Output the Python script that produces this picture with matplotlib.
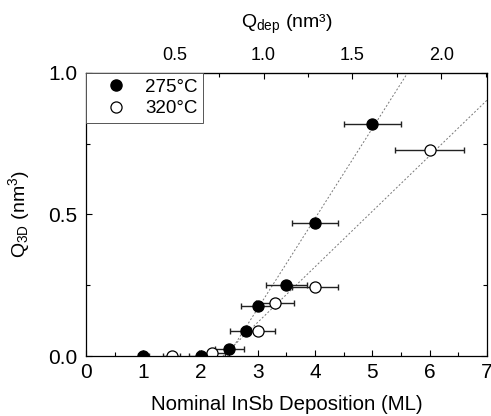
import matplotlib
matplotlib.use("Agg")
import matplotlib.pyplot as plt
import numpy as np
from matplotlib.ticker import MultipleLocator, FixedLocator
from matplotlib.lines import Line2D

plt.rcParams['font.family'] = ['Liberation Sans', 'DejaVu Sans']
plt.rcParams['mathtext.fontset'] = 'custom'
plt.rcParams['mathtext.rm'] = 'Liberation Sans'
plt.rcParams['mathtext.it'] = 'Liberation Sans'

# Data
x_275 = [1.0, 2.0, 2.5, 2.8, 3.0, 3.5, 4.0, 5.0]
y_275 = [0.0, 0.0, 0.025, 0.088, 0.178, 0.252, 0.471, 0.820]
xerr_275 = [0.10, 0.20, 0.25, 0.28, 0.30, 0.35, 0.40, 0.50]

x_320 = [1.5, 2.2, 3.0, 3.3, 4.0, 6.0]
y_320 = [0.0, 0.012, 0.087, 0.187, 0.243, 0.726]
xerr_320 = [0.15, 0.22, 0.30, 0.33, 0.40, 0.60]

fit_slope = [0.318, 0.196]
fit_x0 = [2.47, 2.39]

ml_per_qdep = 3.1
top_ticks = [0.5, 1.0, 1.5, 2.0]
top_minor = [0.25, 0.75, 1.25, 1.75, 2.25]

fig = plt.figure(figsize=(4.91, 4.16), dpi=100)
ax = fig.add_axes([0.175, 0.144, 0.817, 0.681])

# dotted fit lines
for s, x0 in zip(fit_slope, fit_x0):
    xs = np.linspace(x0, 7.0, 50)
    ax.plot(xs, s * (xs - x0), ls=(0, (2, 2)), color='#777777', lw=0.7, zorder=1)

ax.errorbar(x_275, y_275, xerr=xerr_275, fmt='none', ecolor='#222222',
            elinewidth=1.0, capsize=2.5, capthick=1.0, zorder=2)
ax.errorbar(x_320, y_320, xerr=xerr_320, fmt='none', ecolor='#222222',
            elinewidth=1.0, capsize=2.5, capthick=1.0, zorder=2)
ax.scatter(x_320, y_320, s=64, facecolors='white', edgecolors='black',
           linewidths=0.9, zorder=3, clip_on=True)
ax.scatter(x_275, y_275, s=64, facecolors='black', edgecolors='black',
           linewidths=0.9, zorder=4, clip_on=True)

ax.set_xlim(0, 7)
ax.set_ylim(0, 1.0)
ax.xaxis.set_major_locator(MultipleLocator(1))
ax.xaxis.set_minor_locator(MultipleLocator(0.5))
ax.yaxis.set_major_locator(MultipleLocator(0.5))
ax.yaxis.set_minor_locator(MultipleLocator(0.25))
ax.tick_params(which='both', direction='in', top=False, right=True, labelsize=15)
ax.tick_params(axis='y', pad=6)
ax.tick_params(axis='x', pad=5)
ax.tick_params(which='major', length=4, width=0.8)
ax.tick_params(which='minor', length=3, width=0.8)
ax.yaxis.set_major_formatter(plt.FormatStrFormatter('%.1f'))

ax.set_xlabel('Nominal InSb Deposition (ML)', fontsize=14.7, labelpad=9)
ax.set_ylabel(r'Q$_{\mathrm{3D}}$ (nm$^3$)', fontsize=14, labelpad=12)

sec = ax.secondary_xaxis('top', functions=(lambda v: v / ml_per_qdep,
                                            lambda v: v * ml_per_qdep))
sec.xaxis.set_major_locator(FixedLocator(top_ticks))
sec.xaxis.set_minor_locator(FixedLocator(top_minor))
sec.xaxis.set_major_formatter(plt.FormatStrFormatter('%.1f'))
sec.tick_params(which='both', direction='in', labelsize=13, pad=6)
sec.tick_params(which='major', length=4, width=0.8)
sec.tick_params(which='minor', length=3, width=0.8)
sec.set_xlabel(r'Q$_{\mathrm{dep}}$ (nm³)', fontsize=14, labelpad=14)

for sp in ax.spines.values():
    sp.set_linewidth(0.9)
    sp.set_zorder(5)

h1 = Line2D([], [], ls='none', marker='o', ms=8, mfc='black', mec='black')
h2 = Line2D([], [], ls='none', marker='o', ms=8, mfc='white', mec='black', mew=0.9)
leg = ax.legend([h1, h2], ['275°C', '320°C'], loc='upper left', borderaxespad=0,
                fancybox=False, edgecolor='#555555', framealpha=1, fontsize=13.5,
                handletextpad=0.25, borderpad=0.3, labelspacing=0.25,
                handlelength=2.6)
leg.get_frame().set_linewidth(0.7)

fig.savefig('out.png', dpi=100)
